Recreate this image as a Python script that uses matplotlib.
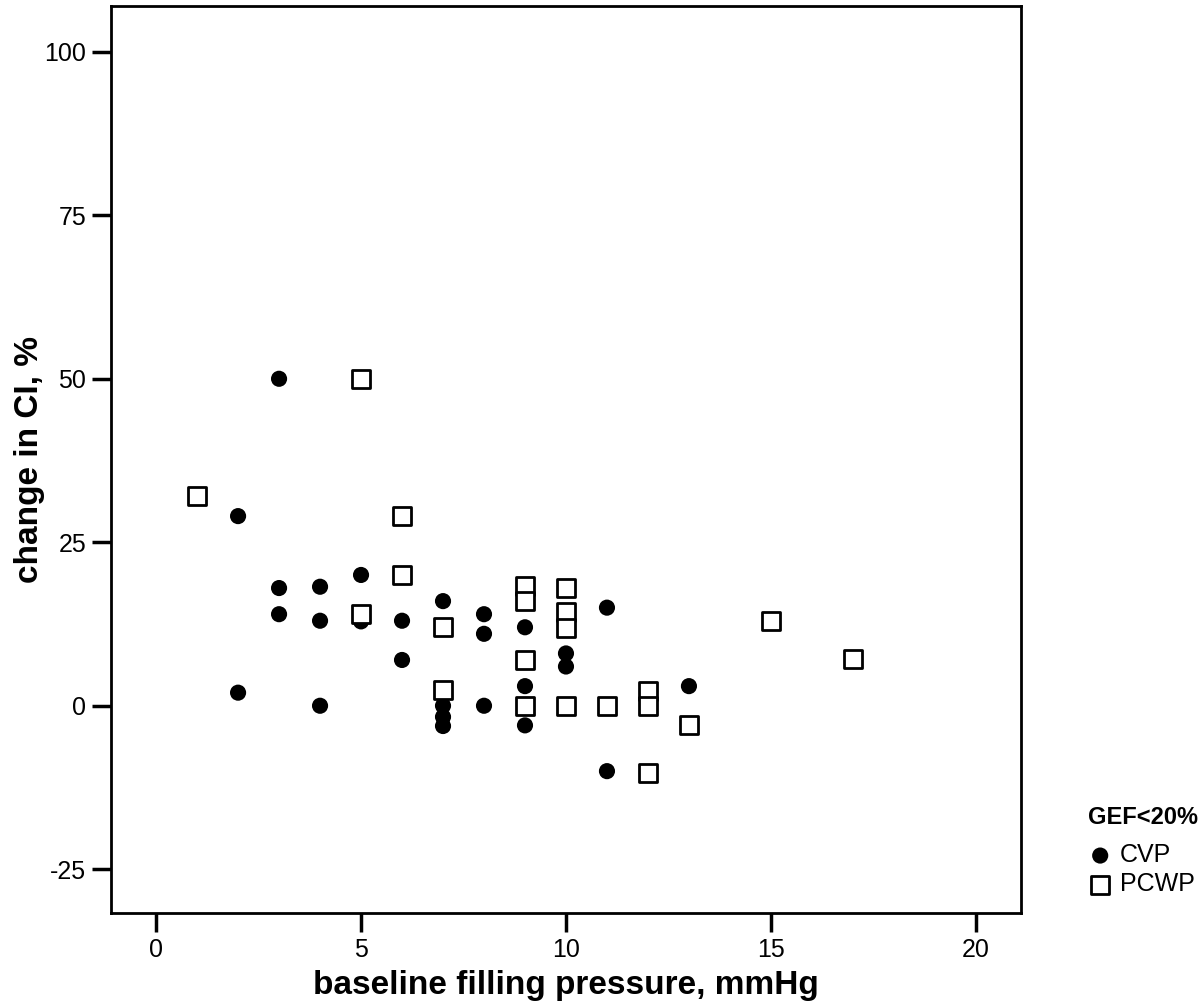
import matplotlib
matplotlib.use("Agg")
import matplotlib.pyplot as plt

plt.rcParams['font.family'] = ['Liberation Sans', 'DejaVu Sans']
plt.rcParams['axes.unicode_minus'] = False

# CVP (filled circles)
cvp_x = [3, 2, 3, 3, 4, 4, 5, 5, 6, 6, 2, 4, 7, 7, 7, 7, 8, 8, 8, 9, 9, 9, 10, 10, 11, 11, 13]
cvp_y = [50, 29, 18, 14, 18.2, 13, 20, 12.9, 13, 7, 2, 0, 16, 0, -1.7, -3.1,
         14, 11, 0, 12, 3, -3, 8, 6, 15, -10, 3]

# PCWP (open squares)
pcwp_x = [1, 5, 6, 6, 5, 7, 7, 9, 9, 9, 9, 10, 10, 10, 10, 11, 12, 12, 12, 13, 15, 17]
pcwp_y = [32, 50, 29, 20, 14, 12, 2.4, 18.3, 16, 7, 0, 18, 14.4, 11.9, 0, 0,
          2.3, 0, -10.3, -3, 13, 7.2]

xticks = [0, 5, 10, 15, 20]
yticks = [-25, 0, 25, 50, 75, 100]

fig = plt.figure(figsize=(12, 10.06), dpi=100)
ax = fig.add_axes([0.0925, 0.0924, 0.7583, 0.9016])

ax.scatter(cvp_x, cvp_y, s=135, marker='o', c='black', edgecolors='none',
           label='CVP', zorder=2)
ax.scatter(pcwp_x, pcwp_y, s=165, marker='s', facecolors='white',
           edgecolors='black', linewidths=2, label='PCWP', zorder=3)

ax.set_xlim(-1.1, 21.1)
ax.set_ylim(-31.7, 107)
ax.set_xticks(xticks)
ax.set_yticks(yticks)
ax.tick_params(direction='out', length=14, width=2.5, labelsize=18, pad=4)
for sp in ax.spines.values():
    sp.set_linewidth(2)

ax.set_xlabel('baseline filling pressure, mmHg', fontsize=24, fontweight='bold', labelpad=6)
ax.set_ylabel('change in CI, %', fontsize=24, fontweight='bold')
ax.yaxis.set_label_coords(-0.0725, 0.5)

leg = fig.legend(loc='upper left', bbox_to_anchor=(0.896, 0.211), frameon=False,
                 title='GEF<20%', fontsize=18, handletextpad=0.3,
                 labelspacing=0.2, borderpad=0, handlelength=1.0)
leg.get_title().set_fontweight('bold')
leg.get_title().set_fontsize(17)
leg._legend_box.align = 'left'
leg._legend_box.sep = 10

fig.savefig('out.png', dpi=100)
